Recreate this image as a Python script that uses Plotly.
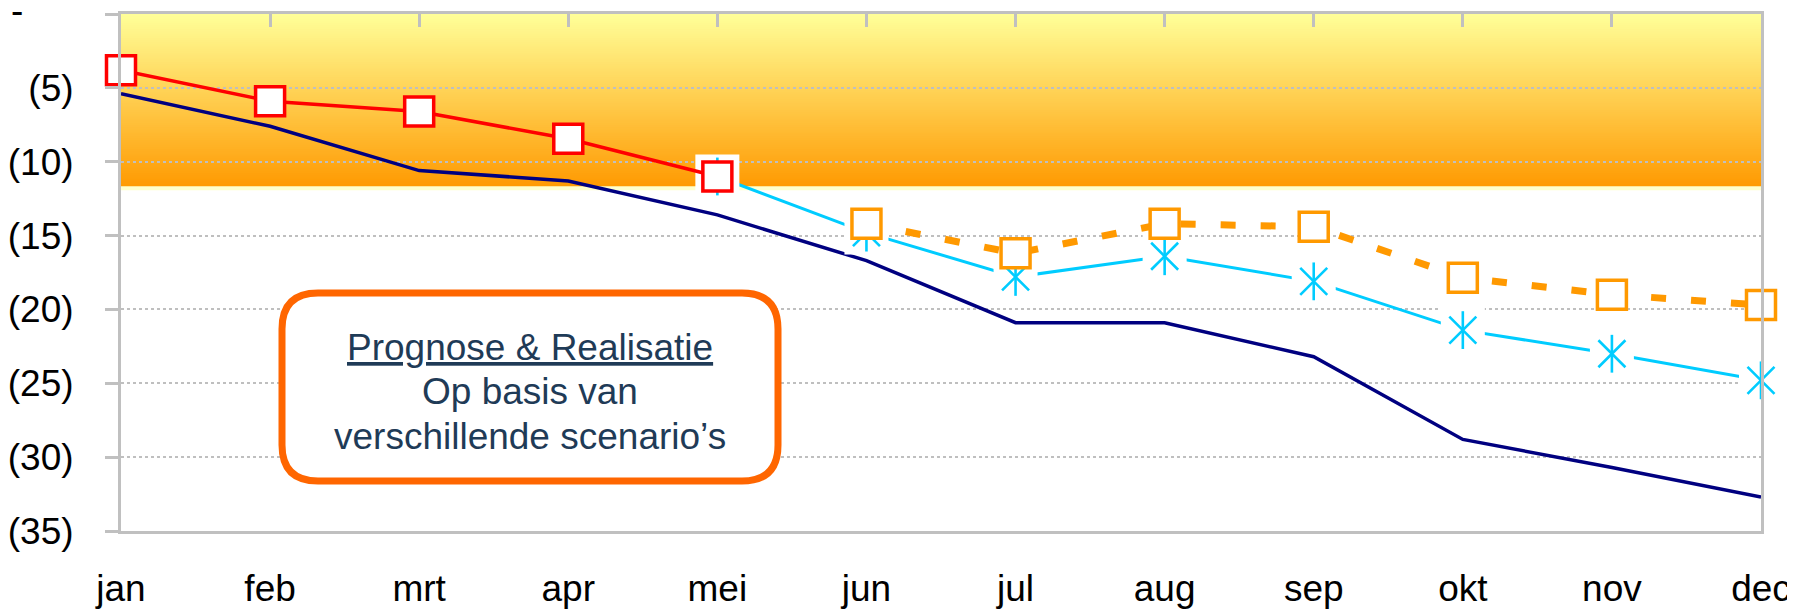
import plotly.graph_objects as go

# ---------------- data ----------------
MONTHS = ["jan", "feb", "mrt", "apr", "mei", "jun", "jul", "aug", "sep", "okt", "nov", "dec"]
REALISATIE = [-3.8, -5.9, -6.6, -8.45, -11.0, None, None, None, None, None, None, None]
SCENARIO_LOW = [-5.4, -7.6, -10.6, -11.3, -13.6, -16.7, -20.9, -20.9, -23.2, -28.8, -30.7, -32.7]
SCENARIO_MID = [None, None, None, None, -11.0, -14.8, -17.8, -16.4, -18.1, -21.4, -23.0, -24.8]
SCENARIO_HIGH = [None, None, None, None, None, -14.2, -16.2, -14.2, -14.4, -17.85, -19.0, -19.7]
Y_TICKS = [0, -5, -10, -15, -20, -25, -30, -35]
Y_TICK_TEXT = ["", "(5)", "(10)", "(15)", "(20)", "(25)", "(30)", "(35)"]
ZERO_LABEL = "-"
BAND_BOTTOM = -11.8
NOTE_LINES = ["<u>Prognose &amp; Realisatie</u>", "Op basis van", "verschillende scenario\u2019s"]

# ---------------- geometry (page has an 8px body margin) ----------------
OFF = 8
W, H = 1795 - OFF, 614 - OFF
ML, MR, MT, MB = 121 - OFF, 34, 14 - OFF, 83
PW, PH = W - ML - MR, H - MT - MB
YMIN, YMAX = -35, 0
XMAX = len(MONTHS) - 1


def px_x(page_px):
    return (page_px - OFF - ML) / PW * XMAX


def px_y(page_py):
    return YMAX - (page_py - OFF - MT) / PH * (YMAX - YMIN)


def paper_x(page_px):
    return (page_px - OFF - ML) / PW


def paper_y(page_py):
    return 1 - (page_py - OFF - MT) / PH


FONT = "Arial, Liberation Sans, sans-serif"
GRAY = "#C0C0C0"
NAVY = "#000080"
RED = "#FF0000"
CYAN = "#00CCFF"
ORANGE = "#FF9900"
BOX = "#FF6600"
TEXT = "#1F3B57"

fig = go.Figure()

fig.add_trace(go.Scatter(x=MONTHS, y=SCENARIO_LOW, mode="lines",
                         line=dict(color=NAVY, width=3.5), cliponaxis=False,
                         showlegend=False, hoverinfo="skip"))
fig.add_trace(go.Scatter(x=MONTHS, y=SCENARIO_MID, mode="lines",
                         line=dict(color=CYAN, width=3), cliponaxis=False,
                         showlegend=False, hoverinfo="skip"))
fig.add_trace(go.Scatter(x=MONTHS, y=SCENARIO_MID, mode="markers",
                         marker=dict(symbol="square", size=44, color="white", line=dict(width=0)),
                         cliponaxis=False, showlegend=False, hoverinfo="skip"))
for sym in ["x-thin-open", "line-ns-open"]:
    fig.add_trace(go.Scatter(x=MONTHS, y=SCENARIO_MID, mode="markers",
                             marker=dict(symbol=sym, size=27, color=CYAN,
                                         line=dict(color=CYAN, width=2.6)),
                             cliponaxis=False, showlegend=False, hoverinfo="skip"))
fig.add_trace(go.Scatter(x=MONTHS, y=SCENARIO_HIGH, mode="lines+markers",
                         line=dict(color=ORANGE, width=7, dash="15px,25px"),
                         marker=dict(symbol="square", size=29, color="white",
                                     line=dict(color=ORANGE, width=3.5)),
                         cliponaxis=False, showlegend=False, hoverinfo="skip"))
fig.add_trace(go.Scatter(x=MONTHS, y=REALISATIE, mode="lines+markers",
                         line=dict(color=RED, width=3.5),
                         marker=dict(symbol="square", size=29, color="white",
                                     line=dict(color=RED, width=3.5)),
                         cliponaxis=False, showlegend=False, hoverinfo="skip"))
# helper trace for the top axis
fig.add_trace(go.Scatter(x=MONTHS, y=[None] * len(MONTHS), xaxis="x2", mode="lines",
                         showlegend=False, hoverinfo="skip"))

# ---------------- gradient band ----------------
shapes = []
N = 80
top_rgb, bot_rgb = (255, 255, 153), (255, 153, 0)
for i in range(N):
    t = (i + 0.5) / N
    c = tuple(round(a + (b - a) * t) for a, b in zip(top_rgb, bot_rgb))
    y0 = YMAX + (BAND_BOTTOM - YMAX) * i / N
    shapes.append(dict(type="rect", xref="paper", yref="y", x0=0, x1=1, y0=y0, y1=BAND_BOTTOM,
                       fillcolor="rgb(%d,%d,%d)" % c, line=dict(width=0), layer="between"))
shapes.append(dict(type="line", xref="paper", yref="y", x0=0, x1=1, y0=BAND_BOTTOM, y1=BAND_BOTTOM,
                   line=dict(color="#FFFFCC", width=4), layer="between"))

# ---------------- rounded note box ----------------
bx0, bx1 = px_x(282), px_x(778)
byt, byb = px_y(293), px_y(481)
rx = 36 / PW * XMAX
ry = 36 / PH * (YMAX - YMIN)
path = (f"M{bx0 + rx},{byt} L{bx1 - rx},{byt} Q{bx1},{byt} {bx1},{byt - ry} "
        f"L{bx1},{byb + ry} Q{bx1},{byb} {bx1 - rx},{byb} L{bx0 + rx},{byb} "
        f"Q{bx0},{byb} {bx0},{byb + ry} L{bx0},{byt - ry} Q{bx0},{byt} {bx0 + rx},{byt} Z")
shapes.append(dict(type="path", xref="x", yref="y", path=path, fillcolor="white",
                   line=dict(color=BOX, width=7), layer="above"))

annotations = []
cx = (bx0 + bx1) / 2
for line_txt, py in zip(NOTE_LINES, [347, 391, 436]):
    annotations.append(dict(x=cx, y=px_y(py), xref="x", yref="y", text=line_txt, showarrow=False,
                            font=dict(family=FONT, size=37, color=TEXT), xanchor="center", yanchor="middle"))
# zero label ("-") sits at the far left, as in accounting number format
annotations.append(dict(x=paper_x(9), y=paper_y(10), xref="paper", yref="paper", text=ZERO_LABEL,
                        showarrow=False, xanchor="left", yanchor="middle",
                        font=dict(family=FONT, size=37, color="black")))

fig.update_layout(
    width=W, height=H,
    margin=dict(l=ML, r=MR, t=MT, b=MB, autoexpand=False),
    paper_bgcolor="white", plot_bgcolor="white",
    shapes=shapes, annotations=annotations,
    font=dict(family=FONT, color="black"),
    xaxis=dict(type="category", categoryarray=MONTHS, range=[0, XMAX], automargin=False,
               showline=True, linecolor=GRAY, linewidth=3, mirror=False,
               ticks="", showgrid=False, zeroline=False,
               tickfont=dict(size=37, family=FONT, color="black"),
               ticklabelstandoff=23),
    xaxis2=dict(type="category", categoryarray=MONTHS, range=[0, XMAX], overlaying="x",
                side="top", anchor="y", showline=True, linecolor=GRAY, linewidth=3, automargin=False,
                ticks="inside", ticklen=13, tickwidth=3, tickcolor=GRAY,
                showticklabels=False, showgrid=False, zeroline=False),
    yaxis=dict(range=[YMIN, YMAX], tickvals=Y_TICKS, ticktext=Y_TICK_TEXT, automargin=False,
               showline=True, linecolor=GRAY, linewidth=3, mirror=True,
               ticks="outside", ticklen=13, tickwidth=3, tickcolor=GRAY,
               showgrid=True, gridcolor="#BFBFBF", gridwidth=2, griddash="dot",
               zeroline=False, ticklabelstandoff=24,
               tickfont=dict(size=37, family=FONT, color="black")),
)

fig.write_html("out.html")
